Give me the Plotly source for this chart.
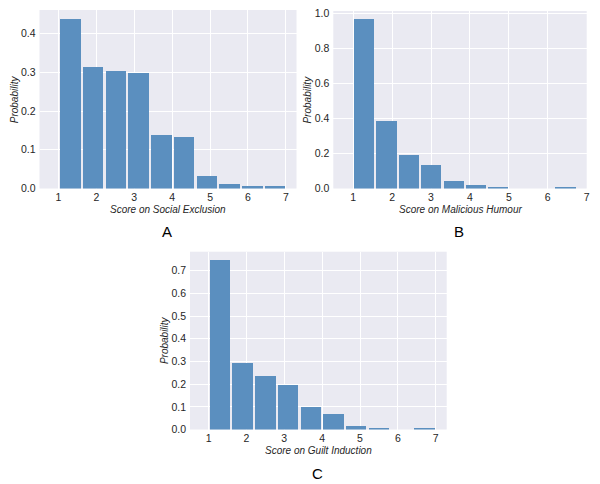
import numpy as np
import plotly.graph_objects as go

# ---- data (histogram densities) ----
edges_a = np.linspace(1, 7, 11)
prob_a = [0.439, 0.314, 0.304, 0.299, 0.137, 0.132, 0.033, 0.012, 0.006, 0.006]

edges_b = np.linspace(1, 6.75, 11)
prob_b = [0.966, 0.387, 0.193, 0.133, 0.042, 0.021, 0.008, 0.0, 0.0, 0.008]

edges_c = np.linspace(1, 7, 11)
prob_c = [0.747, 0.296, 0.236, 0.198, 0.100, 0.069, 0.018, 0.006, 0.0, 0.006]

x_titles = ["Score on Social Exclusion", "Score on Malicious Humour", "Score on Guilt Induction"]
panel_letters = ["A", "B", "C"]
x_ticks = [1, 2, 3, 4, 5, 6, 7]
y_ticks_a = [0.0, 0.1, 0.2, 0.3, 0.4]
y_ticks_b = [0.0, 0.2, 0.4, 0.6, 0.8, 1.0]
y_ticks_c = [0.0, 0.1, 0.2, 0.3, 0.4, 0.5, 0.6, 0.7]

W, H = 600, 484
BAR = "#5b8fbf"
BG = "#eaeaf2"
TXT = "#262626"
FONT = "Liberation Sans, Arial, sans-serif"

# panel geometry in pixels: left, right, top, bottom
panels = [
    dict(px=(39.5, 296.5, 10, 188.5), xr=[0.5, 7.28], yr=[0, 0.461], edges=edges_a, p=prob_a, yt=y_ticks_a),
    dict(px=(333.3, 586.7, 11, 188.5), xr=[0.49, 7.0], yr=[0, 1.014], edges=edges_b, p=prob_b, yt=y_ticks_b),
    dict(px=(190, 446.7, 251.7, 429.5), xr=[0.51, 7.29], yr=[0, 0.784], edges=edges_c, p=prob_c, yt=y_ticks_c),
]

fig = go.Figure()
layout = {}
annotations = []
for i, pn in enumerate(panels):
    l, r, t, b = pn["px"]
    edges = np.asarray(pn["edges"])
    centers = (edges[:-1] + edges[1:]) / 2
    bw = edges[1] - edges[0]
    suffix = "" if i == 0 else str(i + 1)
    fig.add_trace(go.Bar(
        x=centers, y=pn["p"], width=[bw * 0.9] * len(centers),
        marker=dict(color=BAR, line=dict(width=0)),
        xaxis="x" + suffix, yaxis="y" + suffix, showlegend=False,
        hoverinfo="x+y",
    ))
    layout["xaxis" + suffix] = dict(
        domain=[l / W, r / W], range=pn["xr"], anchor="y" + suffix, automargin=False,
        tickvals=x_ticks, showgrid=True, gridcolor="white", gridwidth=1,
        zeroline=False, showline=False, ticks="",
        tickfont=dict(family=FONT, size=10.5, color=TXT), ticklabelstandoff=1,
    )
    layout["yaxis" + suffix] = dict(
        domain=[1 - b / H, 1 - t / H], range=pn["yr"], anchor="x" + suffix, automargin=False,
        tickvals=pn["yt"], tickformat=".1f", showgrid=True, gridcolor="white", gridwidth=1,
        zeroline=False, showline=False, ticks="",
        tickfont=dict(family=FONT, size=10.5, color=TXT), ticklabelstandoff=3,
    )
    cx = (l + r) / 2
    annotations.append(dict(
        x=cx / W, y=1 - (b + 20.5) / H, xref="paper", yref="paper",
        text="<i>" + x_titles[i] + "</i>", showarrow=False,
        font=dict(family=FONT, size=10, color=TXT), xanchor="center", yanchor="middle",
    ))
    annotations.append(dict(
        x=(l - 25.5) / W, y=1 - ((t + b) / 2) / H, xref="paper", yref="paper",
        text="<i>Probability</i>", showarrow=False, textangle=-90,
        font=dict(family=FONT, size=10, color=TXT), xanchor="center", yanchor="middle",
    ))
    annotations.append(dict(
        x=(cx - 1) / W, y=1 - (b + 43.5) / H, xref="paper", yref="paper",
        text=panel_letters[i], showarrow=False,
        font=dict(family=FONT, size=15, color="black"), xanchor="center", yanchor="middle",
    ))

fig.update_layout(
    width=W, height=H, margin=dict(l=0, r=0, t=0, b=0),
    paper_bgcolor="white", plot_bgcolor=BG,
    annotations=annotations, bargap=0, **layout,
)
fig.write_html("out.html", config={"displayModeBar": False},
               post_script="document.body.style.margin='0';")
